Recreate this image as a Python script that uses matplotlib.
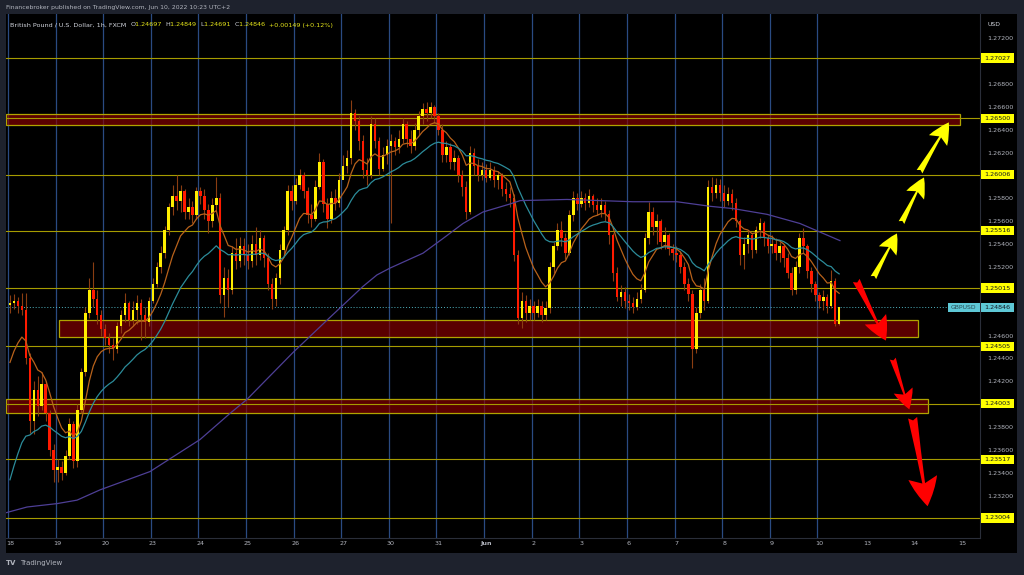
import numpy as np
import matplotlib
matplotlib.use('Agg')
import matplotlib.pyplot as plt
import matplotlib.transforms as mtransforms
from matplotlib.patches import Rectangle, FancyArrowPatch
from matplotlib.offsetbox import TextArea, HPacker, AnchoredOffsetbox

W, H = 1024, 575
BARS_PER_DAY = 12  # two-hour candles

day_labels = ['18', '19', '20', '23', '24', '25', '26', '27', '30', '31', 'Jun',
              '2', '3', '6', '7', '8', '9', '10', '13', '14', '15']
n_data_days = 18

first_open = 1.2487
close = [
    # May 18
    1.2488, 1.2490, 1.2486, 1.2482, 1.2440, 1.2385, 1.2412, 1.2398, 1.2418, 1.2392, 1.2360, 1.2342,
    # May 19
    1.2345, 1.2340, 1.2355, 1.2383, 1.2350, 1.2395, 1.2428, 1.2480, 1.2500, 1.2492, 1.2478, 1.2466,
    # May 20
    1.2458, 1.2452, 1.2448, 1.2468, 1.2478, 1.2488, 1.2474, 1.2482, 1.2488, 1.2478, 1.2472, 1.2490,
    # May 23
    1.2505, 1.2520, 1.2532, 1.2552, 1.2572, 1.2582, 1.2578, 1.2586, 1.2568, 1.2572, 1.2565, 1.2586,
    # May 24
    1.2582, 1.2570, 1.2560, 1.2574, 1.2580, 1.2495, 1.2510, 1.2500, 1.2532, 1.2525, 1.2538, 1.2530,
    # May 25
    1.2525, 1.2540, 1.2530, 1.2545, 1.2528, 1.2505, 1.2492, 1.2510, 1.2535, 1.2552, 1.2586, 1.2578,
    # May 26
    1.2592, 1.2600, 1.2586, 1.2565, 1.2562, 1.2590, 1.2612, 1.2575, 1.2562, 1.2580, 1.2576, 1.2596,
    # May 27
    1.2608, 1.2615, 1.2655, 1.2648, 1.2630, 1.2605, 1.2600, 1.2645, 1.2630, 1.2606, 1.2618, 1.2626,
    # May 30
    1.2630, 1.2625, 1.2632, 1.2645, 1.2632, 1.2626, 1.2640, 1.2652, 1.2658, 1.2655, 1.2660, 1.2652,
    # May 31
    1.2640, 1.2618, 1.2625, 1.2612, 1.2615, 1.2600, 1.2590, 1.2568, 1.2620, 1.2608, 1.2600, 1.2605,
    # Jun 1
    1.2598, 1.2605, 1.2596, 1.2600, 1.2588, 1.2584, 1.2580, 1.2530, 1.2475, 1.2490, 1.2480, 1.2486,
    # Jun 2
    1.2480, 1.2486, 1.2478, 1.2484, 1.2520, 1.2538, 1.2552, 1.2545, 1.2532, 1.2565, 1.2580, 1.2575,
    # Jun 3
    1.2580, 1.2576, 1.2582, 1.2574, 1.2570, 1.2574, 1.2566, 1.2548, 1.2515, 1.2494, 1.2498, 1.2490,
    # Jun 6
    1.2488, 1.2485, 1.2492, 1.2500, 1.2545, 1.2568, 1.2555, 1.2560, 1.2542, 1.2548, 1.2536, 1.2532,
    # Jun 7
    1.2530, 1.2520, 1.2505, 1.2496, 1.2448, 1.2480, 1.2500, 1.2490, 1.2590, 1.2585, 1.2592, 1.2585,
    # Jun 8
    1.2578, 1.2584, 1.2576, 1.2560, 1.2530, 1.2540, 1.2548, 1.2535, 1.2552, 1.2558, 1.2545, 1.2538,
    # Jun 9
    1.2540, 1.2532, 1.2538, 1.2528, 1.2515, 1.2500, 1.2520, 1.2545, 1.2538, 1.2516, 1.2505, 1.2495,
    # Jun 10
    1.2490, 1.2494, 1.2486, 1.2508, 1.24697, 1.24846,
]
high = [
    1.2495, 1.2496, 1.2494, 1.2497, 1.2497, 1.2445, 1.2420, 1.2425, 1.2428, 1.2420, 1.2395, 1.2365,
    1.2352, 1.2350, 1.2360, 1.2388, 1.2385, 1.2400, 1.2432, 1.2485, 1.2510, 1.2524, 1.2500, 1.2482,
    1.2470, 1.2462, 1.2458, 1.2472, 1.2482, 1.2497, 1.2490, 1.2490, 1.2495, 1.2492, 1.2485, 1.2494,
    1.2510, 1.2524, 1.2538, 1.2556, 1.2576, 1.2592, 1.2600, 1.2592, 1.2588, 1.2580, 1.2578, 1.2590,
    1.2590, 1.2588, 1.2575, 1.2580, 1.2599, 1.2585, 1.2520, 1.2518, 1.2538, 1.2545, 1.2546, 1.2545,
    1.2540, 1.2548, 1.2555, 1.2552, 1.2548, 1.2532, 1.2510, 1.2515, 1.2540, 1.2556, 1.2592, 1.2592,
    1.2598, 1.2606, 1.2603, 1.2590, 1.2575, 1.2596, 1.2620, 1.2614, 1.2580, 1.2586, 1.2588, 1.2602,
    1.2618, 1.2622, 1.2666, 1.2658, 1.2652, 1.2635, 1.2615, 1.2652, 1.2650, 1.2634, 1.2625, 1.2632,
    1.2636, 1.2634, 1.2640, 1.2650, 1.2648, 1.2640, 1.2646, 1.2656, 1.2663, 1.2664, 1.2664, 1.2662,
    1.2655, 1.2645, 1.2630, 1.2628, 1.2622, 1.2618, 1.2605, 1.2595, 1.2626, 1.2624, 1.2614, 1.2612,
    1.2610, 1.2612, 1.2608, 1.2604, 1.2602, 1.2594, 1.2590, 1.2584, 1.2535, 1.2498, 1.2495, 1.2492,
    1.2490, 1.2492, 1.2490, 1.2490, 1.2524, 1.2542, 1.2558, 1.2560, 1.2550, 1.2570, 1.2586, 1.2585,
    1.2586, 1.2585, 1.2588, 1.2584, 1.2580, 1.2580, 1.2578, 1.2570, 1.2550, 1.2520, 1.2504, 1.2502,
    1.2496, 1.2494, 1.2498, 1.2505, 1.2550, 1.2577, 1.2572, 1.2566, 1.2562, 1.2555, 1.2550, 1.2540,
    1.2538, 1.2534, 1.2524, 1.2510, 1.2500, 1.2485, 1.2505, 1.2510, 1.2596, 1.2599, 1.2598, 1.2597,
    1.2592, 1.2590, 1.2588, 1.2580, 1.2562, 1.2546, 1.2552, 1.2550, 1.2556, 1.2563, 1.2560, 1.2548,
    1.2548, 1.2545, 1.2542, 1.2540, 1.2532, 1.2520, 1.2525, 1.2550, 1.2554, 1.2540, 1.2520, 1.2508,
    1.2498, 1.2500, 1.2496, 1.2517, 1.2510, 1.24849,
]
low = [
    1.2480, 1.2483, 1.2480, 1.2478, 1.2435, 1.2375, 1.2374, 1.2390, 1.2395, 1.2385, 1.2355, 1.2332,
    1.2332, 1.2334, 1.2338, 1.2352, 1.2344, 1.2345, 1.2392, 1.2425, 1.2475, 1.2485, 1.2470, 1.2460,
    1.2452, 1.2445, 1.2439, 1.2445, 1.2462, 1.2472, 1.2468, 1.2468, 1.2470, 1.2456, 1.2458, 1.2468,
    1.2488, 1.2502, 1.2515, 1.2528, 1.2548, 1.2565, 1.2570, 1.2568, 1.2562, 1.2562, 1.2558, 1.2562,
    1.2575, 1.2562, 1.2550, 1.2555, 1.2570, 1.2488, 1.2476, 1.2485, 1.2496, 1.2518, 1.2520, 1.2522,
    1.2518, 1.2520, 1.2522, 1.2526, 1.2520, 1.2500, 1.2483, 1.2486, 1.2505, 1.2530, 1.2548, 1.2570,
    1.2575, 1.2588, 1.2580, 1.2558, 1.2555, 1.2560, 1.2588, 1.2568, 1.2554, 1.2558, 1.2570, 1.2572,
    1.2598, 1.2602, 1.2610, 1.2640, 1.2622, 1.2598, 1.2592, 1.2598, 1.2624, 1.2600, 1.2604, 1.2610,
    1.2558, 1.2618, 1.2620, 1.2628, 1.2625, 1.2620, 1.2622, 1.2635, 1.2645, 1.2648, 1.2650, 1.2646,
    1.2635, 1.2612, 1.2612, 1.2606, 1.2605, 1.2594, 1.2582, 1.2562, 1.2566, 1.2600, 1.2595, 1.2596,
    1.2594, 1.2596, 1.2590, 1.2588, 1.2582, 1.2578, 1.2572, 1.2525, 1.2470, 1.2467, 1.2472, 1.2474,
    1.2474, 1.2476, 1.2472, 1.2474, 1.2480, 1.2515, 1.2535, 1.2538, 1.2527, 1.2530, 1.2560, 1.2570,
    1.2572, 1.2570, 1.2572, 1.2568, 1.2565, 1.2564, 1.2560, 1.2540, 1.2508, 1.2490, 1.2486, 1.2484,
    1.2482, 1.2480, 1.2482, 1.2488, 1.2498, 1.2540, 1.2548, 1.2540, 1.2536, 1.2536, 1.2530, 1.2526,
    1.2524, 1.2515, 1.2500, 1.2490, 1.2432, 1.2445, 1.2475, 1.2482, 1.2488, 1.2578, 1.2580, 1.2578,
    1.2572, 1.2574, 1.2570, 1.2555, 1.2522, 1.2518, 1.2532, 1.2528, 1.2532, 1.2545, 1.2538, 1.2532,
    1.2532, 1.2526, 1.2524, 1.2520, 1.2510, 1.2495, 1.2496, 1.2515, 1.2532, 1.2510, 1.2498, 1.2490,
    1.2484, 1.2482, 1.2480, 1.2484, 1.2468, 1.24691,
]

# fast moving averages: span in 2h bars, starting value
ema_spans = [10, 25]
ema_seeds = [1.2425, 1.2321]
ema_colors = ['#b8621b', '#2c8c9a']

# slow average (bar position, price)
slow_ma_x = [-0.5, 4.8, 12.4, 17.4, 23.2, 35.8, 48.4, 56.0, 60.2, 71.8, 81.2, 89.5, 93.0,
             96.3, 104.6, 109.7, 114.7, 119.7, 126.5, 129.1, 140.9, 149.2, 157.5, 168.6,
             177.0, 182.8, 191.3, 199.6, 209.7]
slow_ma_y = [1.2305, 1.2310, 1.2313, 1.2316, 1.2325, 1.2341, 1.2369, 1.2392, 1.2404, 1.2445,
             1.2476, 1.2503, 1.2513, 1.2519, 1.2532, 1.2545, 1.2558, 1.2568, 1.2575, 1.2578,
             1.2579, 1.2578, 1.2577, 1.2577, 1.2573, 1.2571, 1.2566, 1.2558, 1.2543]
slow_ma_color = '#4e3f96'

levels = [1.27027, 1.26500, 1.26006, 1.25516, 1.25015, 1.24505, 1.24003, 1.23517, 1.23004]
last_price = 1.24846

# zones: (start bar, end bar, bottom price, top price)
zones = [(-0.5, 240.0, 1.26441, 1.26537),
         (12.9, 229.4, 1.24587, 1.24736),
         (-0.5, 231.9, 1.23922, 1.24045)]

# arrows: (tail bar, tail price, tip bar, tip price, colour, size)
arrows = [(217.8, 1.25085, 224.4, 1.25514, '#ffff00', 15),
          (224.9, 1.25566, 231.2, 1.26004, '#ffff00', 15),
          (229.4, 1.26012, 237.5, 1.26485, '#ffff00', 16),
          (213.5, 1.25103, 221.6, 1.24534, '#ff0000', 18),
          (222.8, 1.24421, 227.4, 1.23931, '#ff0000', 15),
          (227.9, 1.23905, 231.9, 1.23083, '#ff0000', 22)]


def px_box(x0, y0, x1, y1):
    return [x0 / W, 1 - y1 / H, (x1 - x0) / W, (y1 - y0) / H]


def ema(values, span, seed):
    alpha = 2.0 / (span + 1)
    out, prev = [], seed
    for v in values:
        prev = prev + alpha * (v - prev)
        out.append(prev)
    return np.array(out)


fig = plt.figure(figsize=(W / 100, H / 100), dpi=100, facecolor='#1e222d')
fig.patches.append(Rectangle((6 / W, 1 - 553 / H), 1011 / W, 539 / H,
                             transform=fig.transFigure, fc='black', ec='none', zorder=-1))

ax = fig.add_axes(px_box(6, 14, 980, 538))
ax.set_facecolor('black')
ax.set_xlim(-0.5, 245.0)
ax.set_ylim(1.22829, 1.27412)

# day separators
for k in range(n_data_days):
    ax.axvline(k * BARS_PER_DAY, color='#2a4b82', lw=0.9, zorder=1)

# zones and levels
for x0, x1, y0, y1 in zones:
    ax.add_patch(Rectangle((x0, y0), x1 - x0, y1 - y0, fc='#8b0000', alpha=0.65,
                           ec='none', zorder=2))
    ax.add_patch(Rectangle((x0, y0), x1 - x0, y1 - y0, fc='none', ec='#b0a400',
                           lw=0.9, zorder=2))
for lv in levels:
    ax.axhline(lv, color='#a69b00', lw=0.8, zorder=2)
ax.axhline(last_price, color='#4fb3c0', lw=0.7, ls=(0, (1, 2)), zorder=2)

# candles
c = np.array(close)
h = np.array(high)
l = np.array(low)
o = np.concatenate([[first_open], c[:-1]])
x = np.arange(len(c)) + 0.5
up = c >= o
ax.vlines(x, l, h, color='#8a3d12', lw=0.8, zorder=3)
body_lo = np.minimum(o, c)
body_h = np.maximum(np.abs(c - o), 0.00004)
ax.bar(x[up], body_h[up], bottom=body_lo[up], width=0.62, color='#ffee00', lw=0, zorder=4)
ax.bar(x[~up], body_h[~up], bottom=body_lo[~up], width=0.62, color='#ff1a00', lw=0, zorder=4)

for span, seed, col in zip(ema_spans, ema_seeds, ema_colors):
    ax.plot(x, ema(c, span, seed), color=col, lw=0.9, zorder=5)
ax.plot(slow_ma_x, slow_ma_y, color=slow_ma_color, lw=0.9, zorder=5)

for xt, yt, xh, yh, col, size in arrows:
    ax.add_patch(FancyArrowPatch((xt, yt), (xh, yh),
                                 arrowstyle='fancy,head_length=0.95,head_width=0.95,tail_width=0.3',
                                 mutation_scale=size, color=col, lw=0, zorder=6))

# axes styling
for side in ['left', 'top']:
    ax.spines[side].set_visible(False)
for side in ['right', 'bottom']:
    ax.spines[side].set_color('#2a2e39')
    ax.spines[side].set_linewidth(0.8)

# price scale: ticks that sit under a price label are left out
marks = levels + [last_price]
yticks = [t for t in np.arange(1.232, 1.2721, 0.002)
          if min(abs(t - m) for m in marks) > 0.0005]
ax.yaxis.tick_right()
ax.set_yticks(yticks)
ax.yaxis.set_major_formatter(matplotlib.ticker.FormatStrFormatter('%.5f'))
ax.tick_params(axis='y', length=0, pad=5, labelsize=4.6, labelcolor='#b2b5be')
ax.set_xticks([k * BARS_PER_DAY + 0.5 for k in range(len(day_labels))])
ax.set_xticklabels(day_labels)
ax.tick_params(axis='x', length=0, pad=2.5, labelsize=4.6, labelcolor='#b2b5be')
for t in ax.get_xticklabels():
    if t.get_text() == 'Jun':
        t.set_fontweight('bold')

# price labels on the scale
blend = mtransforms.blended_transform_factory(ax.transAxes, ax.transData)
for lv in levels:
    ax.add_patch(Rectangle((1.001, lv - 0.00040), 0.0339, 0.00080, transform=blend,
                           fc='#ffff00', ec='none', clip_on=False, zorder=7))
    ax.text(1.018, lv, '%.5f' % lv, transform=blend, ha='center', va='center',
            fontsize=4.6, color='#131722', clip_on=False, zorder=8)
ax.add_patch(Rectangle((1.001, last_price - 0.00040), 0.0339, 0.00080, transform=blend,
                       fc='#5ec8d6', ec='none', clip_on=False, zorder=7))
ax.text(1.018, last_price, '%.5f' % last_price, transform=blend, ha='center', va='center',
        fontsize=4.6, color='#131722', clip_on=False, zorder=8)
ax.add_patch(Rectangle((0.967, last_price - 0.00040), 0.033, 0.00080, transform=blend,
                       fc='#5ec8d6', ec='none', clip_on=False, zorder=7))
ax.text(0.9835, last_price, 'GBPUSD', transform=blend, ha='center', va='center',
        fontsize=4.4, color='#2a4a52', clip_on=False, zorder=8)

# header / footer
fig.text(6 / W, 1 - 7 / H, 'Financebroker published on TradingView.com, Jun 10, 2022 10:23 UTC+2',
         color='#b2b5be', fontsize=4.4, va='center', ha='left')
fig.text(987 / W, 1 - 24 / H, 'USD', color='#d1d4dc', fontsize=4.4, va='center', ha='left')

white, yel = '#d1d4dc', '#e6e61a'
parts = [('British Pound / U.S. Dollar, 1h, FXCM  ', white), ('O', white), ('1.24697  ', yel),
         ('H', white), ('1.24849  ', yel), ('L', white), ('1.24691  ', yel),
         ('C', white), ('1.24846  ', yel), ('+0.00149 (+0.12%)', yel)]
box = HPacker(children=[TextArea(s, textprops=dict(color=col, fontsize=4.6)) for s, col in parts],
              align='center', pad=0, sep=0)
fig.add_artist(AnchoredOffsetbox(loc='center left', child=box, pad=0, borderpad=0, frameon=False,
                                 bbox_to_anchor=(10 / W, 1 - 25 / H),
                                 bbox_transform=fig.transFigure))

fig.text(6 / W, 1 - 563 / H, 'TV', color='#b2b5be', fontsize=5, fontweight='bold',
         va='center', ha='left')
fig.text(20 / W, 1 - 563 / H, 'TradingView', color='#b2b5be', fontsize=5, va='center', ha='left')

fig.savefig('out.png', dpi=100, facecolor=fig.get_facecolor())
